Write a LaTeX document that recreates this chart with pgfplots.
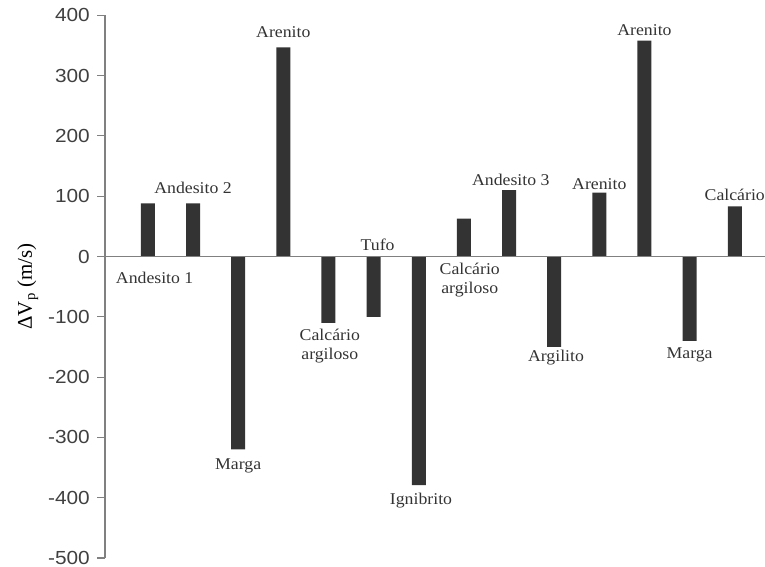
\documentclass[border=0pt]{standalone}
\usepackage{fontspec}
\setmainfont{Liberation Serif}
\newfontfamily\tickfont{Liberation Sans}
\usepackage{pgfplots}
\pgfplotsset{compat=1.18}
\definecolor{barc}{HTML}{333333}
\definecolor{axc}{HTML}{808080}
\definecolor{tickc}{HTML}{404040}
\begin{document}
\begin{tikzpicture}
\begin{axis}[
  at={(0,0)}, anchor=south west,
  scale only axis, width=660bp, height=542.7bp,
  xmin=-0.95, xmax=13.67, ymin=-500, ymax=400,
  axis y line*=left, axis x line=none,
  ytick={-500,-400,...,400},
  y axis line style={color=axc, line width=1.2bp},
  y tick style={color=axc, line width=1.2bp},
  tick align=outside, major tick length=8bp,
  yticklabel style={font=\tickfont\fontsize{19}{19}\selectfont, color=tickc, xscale=1.1, xshift=-3bp},
  /pgf/number format/assume math mode=true,
  scaled y ticks=false,
  every axis y label/.style={at={(axis description cs:-0.117,0.5)}, rotate=90, anchor=center},
  ylabel={\fontsize{21}{21}\selectfont ΔV\textsubscript{p} (m/s)},
  clip=false,
]
\addplot[ybar, bar width=14bp, fill=barc, draw=none] coordinates {
 (0,88) (1,88) (2,-320) (3,347) (4,-110) (5,-100) (6,-379)
 (7,63) (8,110) (9,-150) (10,106) (11,358) (12,-140) (13,83)};
\draw[axc, line width=1.2bp] (axis cs:-0.95,0) -- (axis cs:13.67,0);
\begin{scope}[every node/.style={font=\fontsize{16.5}{19}\selectfont, color=barc, align=center, xscale=1.08}]
\node at (axis cs:0.15,-36) {Andesito 1};
\node at (axis cs:1,114) {Andesito 2};
\node at (axis cs:2,-347) {Marga};
\node at (axis cs:3,372) {Arenito};
\node at (axis cs:4.03,-148) {Calcário\\argiloso};
\node at (axis cs:5.09,19) {Tufo};
\node at (axis cs:6.05,-404) {Ignibrito};
\node at (axis cs:7.13,-39) {Calcário\\argiloso};
\node at (axis cs:8.04,127) {Andesito 3};
\node at (axis cs:9.04,-168) {Argilito};
\node at (axis cs:10,120) {Arenito};
\node at (axis cs:11,376) {Arenito};
\node at (axis cs:12,-163) {Marga};
\node at (axis cs:13,102) {Calcário};
\end{scope}
\end{axis}
\pgfresetboundingbox
\path (-105bp,-9bp) rectangle (660bp,558bp);
\end{tikzpicture}
\end{document}
